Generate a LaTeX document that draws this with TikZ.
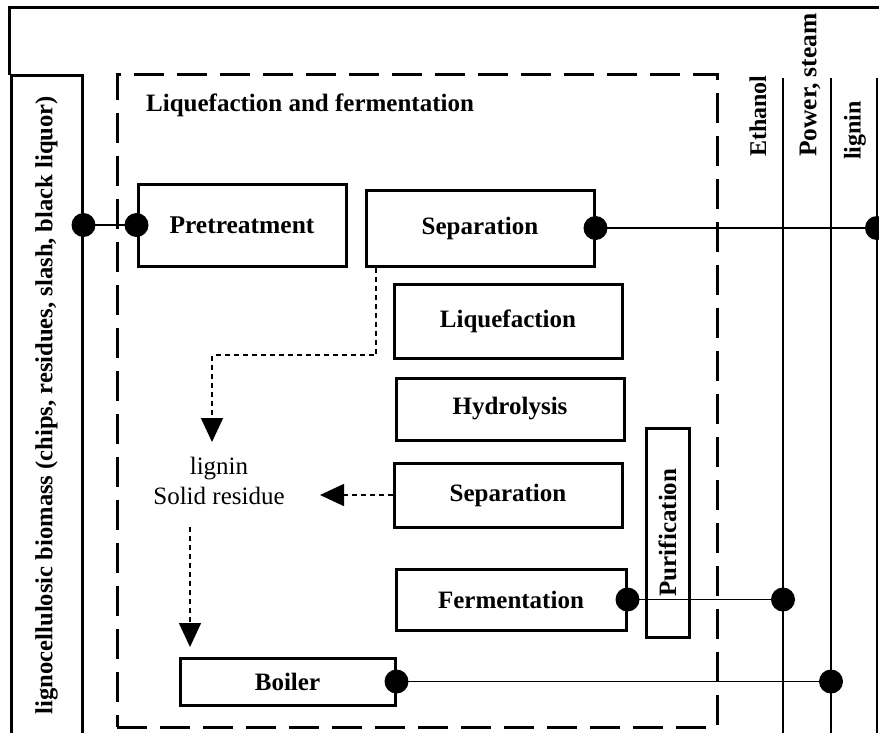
\documentclass[tikz,border=0pt]{standalone}
\usepackage{fontspec}
\setmainfont{Liberation Serif}
\usetikzlibrary{arrows.meta}
\begin{document}
\begin{tikzpicture}[x=1pt,y=-1pt,
  stepbox/.style={draw, line width=3pt, inner sep=0pt, align=center,
    font=\bfseries\fontsize{25}{28}\selectfont},
  stage/.style={draw, line width=3pt, dash pattern=on 30pt off 13pt, inner sep=0pt},
  wire/.style={line width=1.5pt},
  flow/.style={line width=1.5pt, dash pattern=on 5pt off 4pt,
    -{Triangle[length=24pt,width=22pt]}},
  outlabel/.style={rotate=90, anchor=west, inner sep=0pt,
    font=\bfseries\fontsize{24}{28}\selectfont},
  plain/.style={inner sep=0pt, align=center, font=\fontsize{25}{30}\selectfont},
  dotr/.style={radius=12pt}
]
\useasboundingbox (0,0) rectangle (879,732);
\clip (0,0) rectangle (879,732);

% outer frame (top and left)
\draw[line width=3pt] (9,75) -- (9,7) -- (890,7);

% feedstock column
\node[stepbox, minimum width=71pt, minimum height=660pt,
  font=\bfseries\fontsize{24.6}{28}\selectfont] (src) at (46.5,405)
  {\rotatebox{90}{lignocellulosic biomass (chips, residues, slash, black liquor)}};

% process stage enclosure
\node[stage, minimum width=600pt, minimum height=653pt] (stg) at (417,400.5) {};
\node[inner sep=0pt, anchor=west, font=\bfseries\fontsize{25}{28}\selectfont]
  (stgtitle) at (146,105) {Liquefaction and fermentation};

% product lines
\coordinate (ethTop) at (783,78);
\coordinate (powTop) at (831,78);
\coordinate (ligTop) at (877,78);
\draw[wire] (ethTop) -- ++(0,700);
\draw[wire] (powTop) -- ++(0,700);
\draw[wire] (ligTop) -- ++(0,700);
\node[outlabel] (ethLab) at (758,157) {Ethanol};
\node[outlabel, font=\bfseries\fontsize{25.5}{28}\selectfont] (powLab) at (810,157) {Power, steam};
\node[outlabel] (ligLab) at (855,160) {lignin};

% process steps
\node[stepbox, font=\bfseries\fontsize{25.5}{28}\selectfont,
  minimum width=208pt, minimum height=82pt] (pre) at (242,225) {Pretreatment};
\node[stepbox, minimum width=228pt, minimum height=76pt] (sep1) at (480,228) {Separation};
\node[stepbox, minimum width=228pt, minimum height=74pt] (liq) at (508,321) {Liquefaction};
\node[stepbox, minimum width=228pt, minimum height=62pt] (hyd) at (510,409) {Hydrolysis};
\node[stepbox, minimum width=228pt, minimum height=64pt] (sep2) at (508,495) {Separation};
\node[stepbox, minimum width=230pt, minimum height=61pt] (ferm) at (511,599.5) {Fermentation};
\node[stepbox, minimum width=43pt, minimum height=209pt] (pur) at (667.5,532.5)
  {\rotatebox{90}{Purification}};
\node[stepbox, minimum width=215pt, minimum height=47pt] (boil) at (287.5,681.5) {Boiler};

% solid residue
\node[plain] (res) at (219,481) {lignin\\Solid residue};

% feed connection
\draw[wire] (src.east |- pre.west) -- (pre.west);
\fill[dotr] (src.east |- pre.west) circle;
\fill[dotr] (pre.west) circle;

% product connections
\draw[wire] (sep1.east) -- (ligTop |- sep1.east);
\fill[dotr] (sep1.east) circle;
\fill[dotr] (ligTop |- sep1.east) circle;

\draw[wire] (ferm.east) -- (ethTop |- ferm.east);
\fill[dotr] (ferm.east) circle;
\fill[dotr] (ethTop |- ferm.east) circle;

\draw[wire] (boil.east) -- (powTop |- boil.east);
\fill[dotr] (boil.east) circle;
\fill[dotr] (powTop |- boil.east) circle;

% residue flows
\coordinate (k1) at (376,355);
\coordinate (t1) at (212,442);
\draw[flow] (sep1.south -| k1) -- (k1) -| (t1);
\coordinate (t2) at (320,495);
\draw[flow] (sep2.west) -- (t2);
\coordinate (s3) at (190,527);
\coordinate (t3) at (190,647);
\draw[flow] (s3) -- (t3);
\end{tikzpicture}
\end{document}
